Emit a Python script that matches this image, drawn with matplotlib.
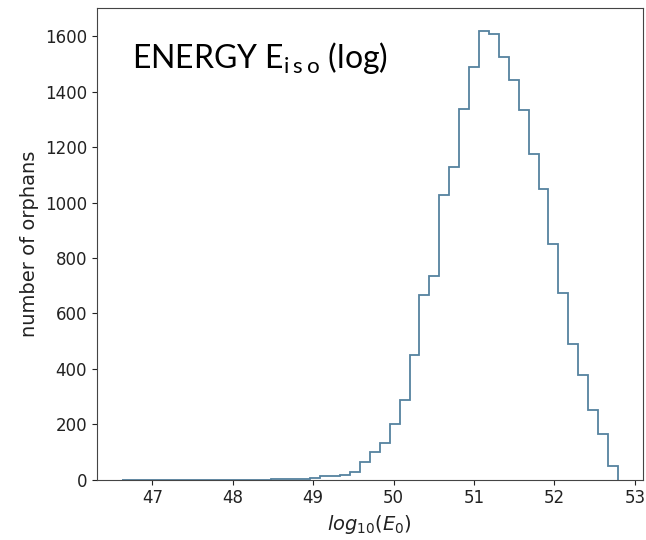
import numpy as np
import matplotlib
matplotlib.use('Agg')
import matplotlib.pyplot as plt

# histogram of log10(E0), 50 bins, counts
bin_lo = 46.62
bin_hi = 52.79
n_bins = 50
counts = [0, 0, 0, 0, 0, 0, 0, 0, 0, 0,
          0, 0, 0, 0, 0, 1, 1, 2, 3, 4,
          11, 14, 17, 28, 62, 99, 133, 201, 288, 448,
          665, 735, 1029, 1127, 1337, 1488, 1621, 1609, 1524, 1442,
          1334, 1174, 1049, 851, 675, 490, 379, 252, 163, 49]

x_label = r'$log_{10}(E_0)$'
y_label = 'number of orphans'
title_text = r'ENERGY E$_{\mathrm{i\,s\,o}}$ (log)'

plt.rcParams['mathtext.rm'] = 'Lato'

edges = np.linspace(bin_lo, bin_hi, n_bins + 1)
centers = 0.5 * (edges[:-1] + edges[1:])

fig = plt.figure(figsize=(6.46, 5.4), dpi=100)
ax = fig.add_axes([0.150, 0.112, 0.845, 0.873])
ax.hist(centers, bins=edges, weights=counts, histtype='step',
        color='#55829f', linewidth=1.3)

ax.set_xlabel(x_label, fontsize=14, color='#222222', math_fontfamily='dejavusans')
ax.set_ylabel(y_label, fontsize=14, color='#222222')
ax.tick_params(labelsize=12, colors='#222222')
for s in ax.spines.values():
    s.set_color('#444444')

ax.text(0.064, 0.894, title_text, transform=ax.transAxes, fontsize=23,
        family='Lato', math_fontfamily='custom', ha='left', va='center', color='black')

plt.savefig('out.png', dpi=100)
plt.close(fig)
